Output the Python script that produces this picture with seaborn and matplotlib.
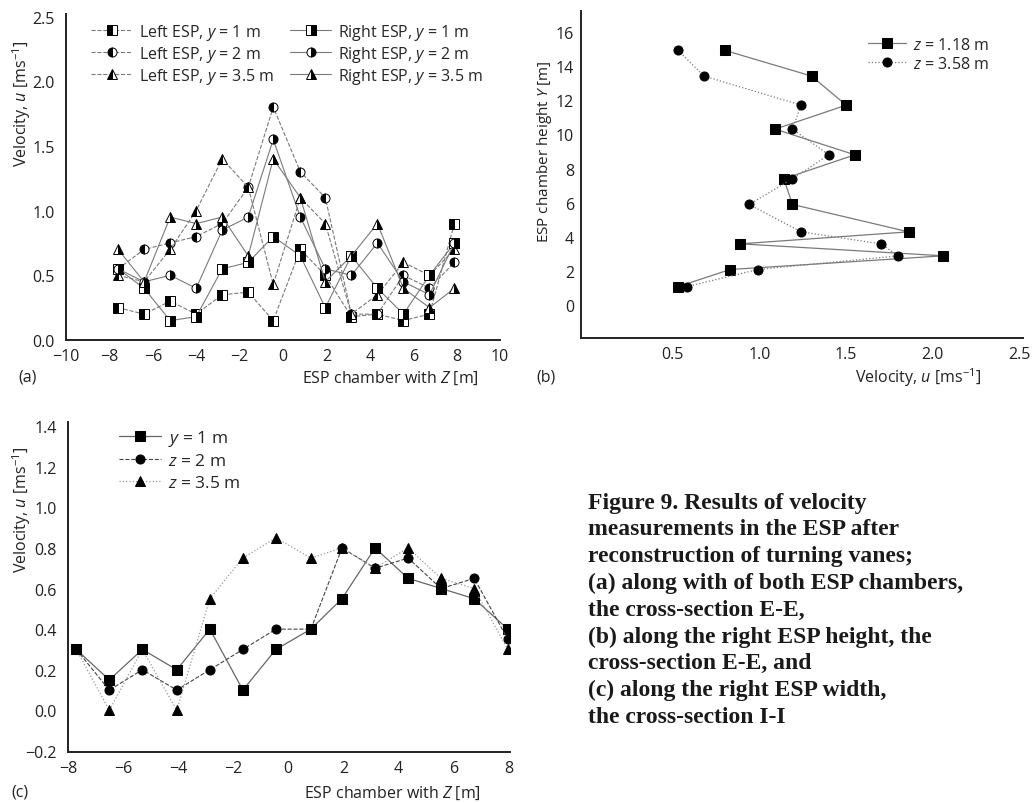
import matplotlib
matplotlib.use("Agg")
import matplotlib.pyplot as plt
import seaborn as sns
import pandas as pd

# ---------------- data: panel (a) ----------------
z_a = [-7.6, -6.4, -5.2, -4.0, -2.8, -1.6, -0.45, 0.8, 1.95, 3.15, 4.35, 5.55, 6.75, 7.9]
left_y1 = [0.25, 0.20, 0.30, 0.20, 0.35, 0.37, 0.15, 0.70, 0.50, 0.18, 0.20, 0.15, 0.20, 0.90]
right_y1 = [0.55, 0.40, 0.15, 0.18, 0.55, 0.60, 0.80, 0.65, 0.25, 0.65, 0.40, 0.20, 0.50, 0.75]
left_y2 = [0.55, 0.70, 0.75, 0.80, 0.90, 1.18, 1.80, 1.30, 1.10, 0.20, 0.20, 0.50, 0.40, 0.60]
right_y2 = [0.55, 0.45, 0.50, 0.40, 0.85, 0.95, 1.55, 0.95, 0.55, 0.50, 0.75, 0.45, 0.35, 0.75]
left_y35 = [0.50, 0.45, 0.70, 1.00, 1.40, 1.18, 0.43, 1.10, 0.90, 0.20, 0.35, 0.60, 0.50, 0.70]
right_y35 = [0.70, 0.45, 0.95, 0.90, 0.95, 0.65, 1.40, 1.10, 0.45, 0.65, 0.90, 0.40, 0.25, 0.40]

# ---------------- data: panel (b) ----------------
height_b = [14.9, 13.4, 11.7, 10.3, 8.8, 7.4, 5.9, 4.3, 3.6, 2.9, 2.1, 1.1]
vel_z118 = [0.80, 1.30, 1.50, 1.09, 1.55, 1.14, 1.19, 1.86, 0.89, 2.06, 0.83, 0.53]
vel_z358 = [0.53, 0.68, 1.24, 1.19, 1.40, 1.19, 0.94, 1.24, 1.70, 1.80, 0.99, 0.58]

# ---------------- data: panel (c) ----------------
z_c = [-7.7, -6.5, -5.3, -4.05, -2.85, -1.65, -0.45, 0.82, 1.95, 3.15, 4.35, 5.55, 6.75, 7.97]
c_y1 = [0.30, 0.15, 0.30, 0.20, 0.40, 0.10, 0.30, 0.40, 0.55, 0.80, 0.65, 0.60, 0.55, 0.40]
c_z2 = [0.30, 0.10, 0.20, 0.10, 0.20, 0.30, 0.40, 0.40, 0.80, 0.70, 0.75, 0.60, 0.65, 0.35]
c_z35 = [0.30, 0.00, 0.30, 0.00, 0.55, 0.75, 0.85, 0.75, 0.80, 0.70, 0.80, 0.65, 0.60, 0.30]

caption_lines = [
    "Figure 9. Results of velocity",
    "measurements in the ESP after",
    "reconstruction of turning vanes;",
    "(a) along with of both ESP chambers,",
    "the cross-section E-E,",
    "(b) along the right ESP height, the",
    "cross-section E-E, and",
    "(c) along the right ESP width,",
    "the cross-section I-I",
]

sns.set_style("ticks")
plt.rcParams['font.family'] = ['Open Sans', 'DejaVu Sans']
plt.rcParams['mathtext.fontset'] = 'custom'
plt.rcParams['mathtext.rm'] = 'Open Sans'
plt.rcParams['mathtext.it'] = 'Open Sans:italic'
plt.rcParams['axes.unicode_minus'] = True

TFS = 11.5   # tick labels
LFS = 11.5   # axis labels
fig = plt.figure(figsize=(10.33, 8.04), dpi=100)
W, H = 1033, 804


def px_axes(l, r, t, b):
    return fig.add_axes([l / W, 1 - b / H, (r - l) / W, (b - t) / H])


def style_ax(ax, ypad=8):
    sns.despine(ax=ax)
    for s in ("left", "bottom"):
        ax.spines[s].set_linewidth(1.4)
        ax.spines[s].set_color("#222222")
    ax.tick_params(length=0, labelsize=TFS, colors="#222222")
    ax.tick_params(axis="x", pad=6)
    ax.tick_params(axis="y", pad=ypad)
    ax.set_xlabel("")
    ax.set_ylabel("")


VEL = r"Velocity, $\mathit{u}$ [ms$^{-1}$]"
GREY = "#7a7a7a"

# ---------------- panel (a) ----------------
axA = px_axes(66, 500, 15, 341)
dfa = pd.DataFrame({"Z": z_a, "L1": left_y1, "R1": right_y1, "L2": left_y2,
                    "R2": right_y2, "L35": left_y35, "R35": right_y35})
series_a = [
    ("L1", "s", "--", "left", r"Left ESP, $\mathit{y}$ = 1 m"),
    ("L2", "o", "--", "left", r"Left ESP, $\mathit{y}$ = 2 m"),
    ("L35", "^", "--", "left", r"Left ESP, $\mathit{y}$ = 3.5 m"),
    ("R1", "s", "-", "right", r"Right ESP, $\mathit{y}$ = 1 m"),
    ("R2", "o", "-", "right", r"Right ESP, $\mathit{y}$ = 2 m"),
    ("R35", "^", "-", "right", r"Right ESP, $\mathit{y}$ = 3.5 m"),
]
for col, mk, ls, fsty, lab in series_a:
    sns.lineplot(data=dfa, x="Z", y=col, ax=axA, color=GREY, linewidth=0.8,
                 linestyle=ls, marker=mk, markersize=6.5, fillstyle=fsty,
                 markerfacecolor="black", markerfacecoloralt="white",
                 markeredgecolor="black", markeredgewidth=0.7,
                 estimator=None, sort=False, label=lab)
axA.set_xlim(-10, 10)
axA.set_ylim(0, 2.52)
axA.set_xticks(range(-10, 11, 2))
axA.set_yticks([0, 0.5, 1.0, 1.5, 2.0, 2.5])
axA.set_yticklabels([f"{v:.1f}" for v in [0, 0.5, 1.0, 1.5, 2.0, 2.5]])
style_ax(axA)
axA.legend(loc="upper left", bbox_to_anchor=(0.035, 1.005), ncol=2, frameon=False,
           fontsize=11.5, handlelength=2.6, columnspacing=1.0, labelspacing=0.12,
           handletextpad=0.4, borderaxespad=0.2)

# ---------------- panel (b) ----------------
axB = px_axes(581, 1023, 12, 339)
dfb = pd.DataFrame({"Y": height_b, "u118": vel_z118, "u358": vel_z358})
sns.lineplot(data=dfb, x="u118", y="Y", ax=axB, color=GREY, linewidth=0.9,
             linestyle="-", marker="s", markersize=6.5, markerfacecolor="black",
             markeredgecolor="black", estimator=None, sort=False, orient="y",
             label=r"$\mathit{z}$ = 1.18 m")
sns.lineplot(data=dfb, x="u358", y="Y", ax=axB, color=GREY, linewidth=0.9,
             linestyle=":", marker="o", markersize=6.5, markerfacecolor="black",
             markeredgecolor="black", estimator=None, sort=False, orient="y",
             label=r"$\mathit{z}$ = 3.58 m")
axB.set_xlim(-0.03, 2.52)
axB.set_ylim(-1.9, 17.2)
axB.set_xticks([0.5, 1.0, 1.5, 2.0, 2.5])
axB.set_xticklabels(["0.5", "1.0", "1.5", "2.0", "2.5"])
axB.set_yticks(range(0, 17, 2))
style_ax(axB, ypad=5)
axB.legend(loc="upper right", bbox_to_anchor=(0.955, 0.965), frameon=False,
           fontsize=11.5, handlelength=2.4, labelspacing=0.2, handletextpad=0.4)

# ---------------- panel (c) ----------------
axC = px_axes(68, 510, 423, 753)
dfc = pd.DataFrame({"Z": z_c, "y1": c_y1, "z2": c_z2, "z35": c_z35})
sns.lineplot(data=dfc, x="Z", y="y1", ax=axC, color="#666666", linewidth=0.9,
             linestyle="-", marker="s", markersize=6.5, markerfacecolor="black",
             markeredgecolor="black", estimator=None, sort=False,
             label=r"$\mathit{y}$ = 1 m")
sns.lineplot(data=dfc, x="Z", y="z2", ax=axC, color="#444444", linewidth=0.8,
             linestyle="--", dashes=(3, 2), marker="o", markersize=6.5,
             markerfacecolor="black", markeredgecolor="black",
             estimator=None, sort=False, label=r"$\mathit{z}$ = 2 m")
sns.lineplot(data=dfc, x="Z", y="z35", ax=axC, color="#9a9a9a", linewidth=0.9,
             linestyle=":", marker="^", markersize=7, markerfacecolor="black",
             markeredgecolor="black", estimator=None, sort=False,
             label=r"$\mathit{z}$ = 3.5 m")
axC.set_xlim(-8, 8.05)
axC.set_ylim(-0.205, 1.42)
axC.set_xticks(range(-8, 9, 2))
yt = [-0.2, 0.0, 0.2, 0.4, 0.6, 0.8, 1.0, 1.2, 1.4]
axC.set_yticks(yt)
axC.set_yticklabels([f"{v:.1f}".replace("-", "\u2212") for v in yt])
style_ax(axC)
axC.legend(loc="upper left", bbox_to_anchor=(0.08, 1.03), frameon=False,
           fontsize=12.5, handlelength=2.4, labelspacing=0.32, handletextpad=0.4)

# ---------------- labels ----------------
def ft(x, y, s, **kw):
    kw.setdefault("fontsize", LFS)
    kw.setdefault("color", "#222222")
    fig.text(x / W, 1 - y / H, s, **kw)

ft(22, 104, VEL, rotation=90, ha="center", va="center")
ft(479, 378, r"ESP chamber with $\mathit{Z}$ [m]", ha="right", va="center")
ft(18, 378, "(a)", ha="left", va="center")

ft(545, 152, r"ESP chamber height $\mathit{Y}$ [m]", rotation=90, ha="center", va="center",
   fontsize=11)
ft(918, 378, VEL, ha="center", va="center")
ft(536, 378, "(b)", ha="left", va="center")

ft(22, 510, VEL, rotation=90, ha="center", va="center")
ft(481, 793, r"ESP chamber with $\mathit{Z}$ [m]", ha="right", va="center")
ft(11, 793, "(c)", ha="left", va="center")

for i, line in enumerate(caption_lines):
    ft(588, 503 + i * 26.8, line, ha="left", va="center", fontsize=17,
       family=["Liberation Serif", "DejaVu Serif"], fontweight="bold", color="#1a1a1a")

fig.savefig("out.png", dpi=100)
